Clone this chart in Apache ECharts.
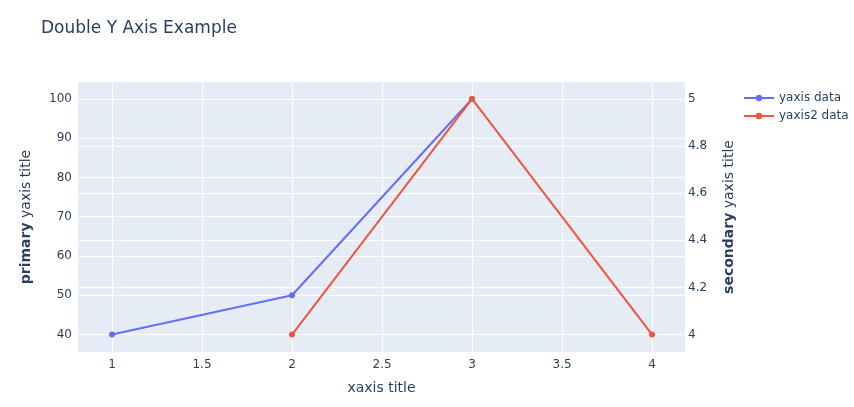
<!DOCTYPE html>
<html>
<head>
<meta charset="utf-8">
<script src="https://cdn.jsdelivr.net/npm/echarts@6/dist/echarts.min.js"></script>
<style>html,body{margin:0;padding:0;background:#fff}#c{width:854px;height:407px}</style>
</head>
<body>
<div id="c"></div>
<script>
const x1 = [1, 2, 3];
const y1 = [40, 50, 100];
const x2 = [2, 3, 4];
const y2 = [4, 5, 4];
const xTicks = [1, 1.5, 2, 2.5, 3, 3.5, 4];
const yTicks = [40, 50, 60, 70, 80, 90, 100];
const y2Ticks = [4, 4.2, 4.4, 4.6, 4.8, 5];

const font = '"DejaVu Sans", Verdana, Arial, sans-serif';
const txt = '#2a3f5f';
const chart = echarts.init(document.getElementById('c'), null, {renderer: 'canvas'});
chart.setOption({
  backgroundColor: '#fff',
  animation: false,
  textStyle: {fontFamily: font, color: txt},
  title: {
    text: 'Double Y Axis Example', left: 36, top: 15,
    textStyle: {fontFamily: font, fontSize: 17, fontWeight: 'normal', color: txt}
  },
  legend: {
    orient: 'vertical', left: 738, top: 87, itemGap: 6, itemWidth: 30, itemHeight: 8,
    textStyle: {fontFamily: font, fontSize: 12, color: txt},
    data: ['yaxis data', 'yaxis2 data']
  },
  grid: {left: 78, right: 169, top: 82, bottom: 55, backgroundColor: '#E5ECF6', show: true, borderWidth: 0},
  xAxis: {
    type: 'value', min: 0.811, max: 4.183,
    name: 'xaxis title', nameLocation: 'middle', nameGap: 29,
    nameTextStyle: {fontFamily: font, fontSize: 14, color: txt},
    axisLine: {show: false}, axisTick: {show: false, customValues: xTicks},
    axisLabel: {customValues: xTicks, fontFamily: font, fontSize: 12, color: txt, margin: 7},
    splitLine: {show: true, lineStyle: {color: '#fff', width: 1}}
  },
  yAxis: [{
    type: 'value', min: 35.54, max: 104.33, position: 'left',
    name: '{b|primary} yaxis title', nameLocation: 'middle', nameGap: 45, nameRotate: 90,
    nameTextStyle: {fontFamily: font, fontSize: 14, color: txt, rich: {b: {fontWeight: 'bold', fontFamily: font, fontSize: 14, color: txt}}},
    axisLine: {show: false}, axisTick: {show: false, customValues: yTicks},
    axisLabel: {customValues: yTicks, fontFamily: font, fontSize: 12, color: txt, margin: 6},
    splitLine: {show: true, lineStyle: {color: '#fff', width: 1}}
  }, {
    type: 'value', min: 3.926, max: 5.072, position: 'right',
    name: '{b|secondary} yaxis title', nameLocation: 'middle', nameGap: 37, nameRotate: 90,
    nameTextStyle: {fontFamily: font, fontSize: 14, color: txt, rich: {b: {fontWeight: 'bold', fontFamily: font, fontSize: 14, color: txt}}},
    axisLine: {show: false}, axisTick: {show: false, customValues: y2Ticks},
    axisLabel: {customValues: y2Ticks, fontFamily: font, fontSize: 12, color: txt, margin: 3},
    splitLine: {show: true, lineStyle: {color: '#fff', width: 1}}
  }],
  series: [{
    name: 'yaxis data', type: 'line', yAxisIndex: 0,
    data: x1.map((v, i) => [v, y1[i]]),
    symbol: 'circle', symbolSize: 6,
    lineStyle: {width: 2, color: '#636efa'}, itemStyle: {color: '#636efa'}
  }, {
    name: 'yaxis2 data', type: 'line', yAxisIndex: 1,
    data: x2.map((v, i) => [v, y2[i]]),
    symbol: 'circle', symbolSize: 6,
    lineStyle: {width: 2, color: '#EF553B'}, itemStyle: {color: '#EF553B'}
  }]
});
</script>
</body>
</html>
